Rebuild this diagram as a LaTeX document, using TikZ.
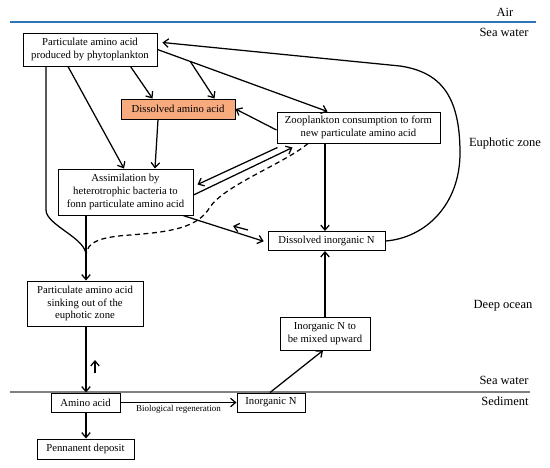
\documentclass[tikz,border=0pt]{standalone}
\usepackage{fontspec}
\setmainfont{Liberation Serif}
\usetikzlibrary{arrows.meta,calc}
\definecolor{airblue}{RGB}{46,117,182}
\definecolor{sedgray}{RGB}{128,128,128}
\definecolor{daafill}{RGB}{247,170,125}
\begin{document}
\begin{tikzpicture}[x=1pt,y=-1pt,
  box/.style={draw, fill=white, line width=1pt, align=center, inner sep=0pt,
    font=\fontsize{10.7}{12.8}\selectfont},
  lab/.style={font=\fontsize{12.5}{14}\selectfont, inner sep=0pt},
  small/.style={font=\fontsize{9}{10}\selectfont, inner sep=0pt},
  conn/.style={line width=1.25pt, -{Straight Barb[length=5pt,width=8.5pt,line width=1.25pt]}},
  plain/.style={line width=1.25pt},
  dashedconn/.style={line width=1.25pt, dash pattern=on 5pt off 3.5pt}
]
\useasboundingbox (0,0) rectangle (550,467);

% boundaries
\coordinate (bl1) at (10,22);
\coordinate (bl2) at (536,22);
\coordinate (gl1) at (10,392);
\coordinate (gl2) at (530,392);
\draw[airblue, line width=2pt] (bl1) -- (bl2);
\draw[sedgray, line width=1.5pt] (gl1) -- (gl2);

% zone labels
\node[lab] (air) at (505,12) {Air};
\node[lab] (sw1) at (504,32) {Sea water};
\node[lab] (eu) at (505,143) {Euphotic zone};
\node[lab] (deep) at (503,306) {Deep ocean};
\node[lab] (sw2) at (504,380) {Sea water};
\node[lab] (sed) at (505,401) {Sediment};

% boxes
\node[box, minimum width=134pt, minimum height=33pt] (b1) at (90,49.5) {Particulate amino acid\\produced by phytoplankton};
\node[box, fill=daafill, minimum width=114pt, minimum height=20pt] (daa) at (178,109) {Dissolved amino acid};
\node[box, minimum width=163pt, minimum height=31pt] (zoo) at (358.5,127.5) {Zooplankton consumption to form\\new particulate amino acid};
\node[box, minimum width=135pt, minimum height=46pt] (asm) at (125.5,192) {Assimilation by\\heterotrophic bacteria to\\fonn particulate amino acid};
\node[box, minimum width=117pt, minimum height=19pt] (din) at (326.5,241) {Dissolved inorganic N};
\node[box, minimum width=116pt, minimum height=45pt] (sink) at (85,303.5) {Particulate amino acid\\sinking out of the\\euphotic zone};
\node[box, minimum width=90pt, minimum height=33pt] (mix) at (325,333.5) {Inorganic N to\\be mixed upward};
\node[box, minimum width=69pt, minimum height=19pt] (aa) at (85.5,402.5) {Amino acid};
\node[box, minimum width=68pt, minimum height=19pt] (inn) at (271,402.5) {Inorganic N};
\node[box, minimum width=97pt, minimum height=20pt] (perm) at (85.5,449) {Pennanent deposit};

% helper coordinates
\coordinate (m) at (86,255);
\coordinate (lk) at (46,210);
\coordinate (zt) at ([xshift=51pt]zoo.north west);
\coordinate (br) at ($(b1.east)!0.193!(zt)$);
\coordinate (sa1) at (248,230);
\coordinate (sa2) at (233,226);
\coordinate (ua1) at (95,373);
\coordinate (ua2) at (95,360);

% connectors
\draw[conn] ([xshift=108pt]b1.south west) -- ([xshift=32pt]daa.north west);
\draw[conn] (b1.east) -- (zt);
\draw[conn] (br) -- ([xshift=94pt]daa.north west);
\draw[conn] ([yshift=-2.5pt]zoo.west) -- (daa.east);
\draw[conn] ([xshift=-20pt]daa.south) -- ([xshift=29.5pt]asm.north);
\draw[conn] ([xshift=-22pt]b1.south) -- ([xshift=-1.5pt]asm.north);
\draw[plain] ([xshift=-44pt]b1.south) -- (lk) .. controls ($(lk)+(0,15)$) and ($(m)+(0,-17)$) .. (m);
\draw[conn] ([xshift=-39.5pt]asm.south) -- (m |- sink.north);
\draw[dashedconn] ([xshift=-50.5pt]zoo.south) .. controls (285,163) and (225,185) .. (210,207)
  .. controls (198,228) and (170,232) .. (130,235) .. controls (100,237) and (87,242) .. (m);
\draw[conn] ([xshift=1pt,yshift=-4pt]zoo.south west) -- ([xshift=4pt,yshift=-16pt]asm.north east);
\draw[conn] ([yshift=-3pt]asm.east) -- ([xshift=16pt,yshift=-4pt]zoo.south west);
\draw[conn, shorten >=4pt] ([xshift=57.5pt]asm.south) -- ([yshift=-1.5pt]din.west);
\draw[conn] (sa1) -- (sa2);
\draw[conn] ([xshift=-33.5pt]zoo.south) -- ([xshift=-1.5pt]din.north);
\draw[conn, shorten >=5pt] (din.east) .. controls (425,238) and (460,205) .. (460,153)
  .. controls (460,95) and (440,72) .. (400,66) -- ([yshift=7.5pt]b1.east);
\draw[conn] (m |- sink.south) -- (m |- aa.north);
\draw[conn] (ua1) -- (ua2);
\draw[conn] (m |- aa.south) -- (m |- perm.north);
\draw[conn] (aa.east) -- node[small, midway, below=2pt] (bio) {Biological regeneration} (inn.west);
\draw[conn] ([xshift=-1pt]inn.north) -- ([xshift=-2pt]mix.south);
\draw[conn] (mix.north) -- (mix.north |- din.south);
\end{tikzpicture}
\end{document}
